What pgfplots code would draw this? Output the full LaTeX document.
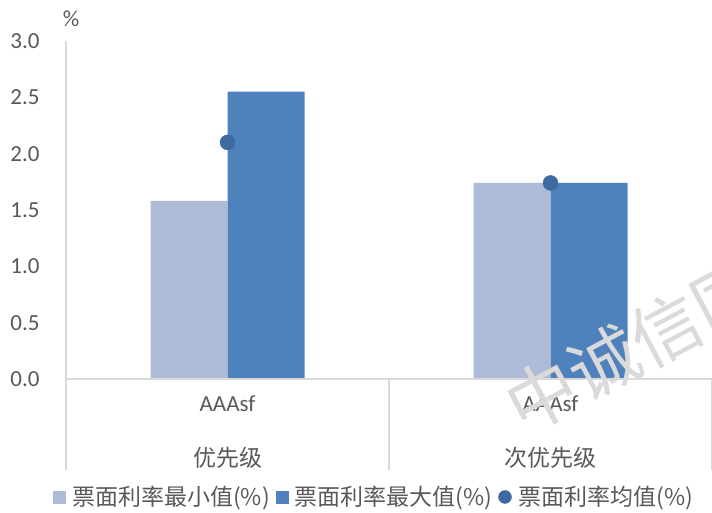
\documentclass[border=0pt]{standalone}
\usepackage{pgfplots}
\pgfplotsset{compat=1.18}
\usepackage{fontspec}
\setmainfont{Carlito}
\newfontfamily\cjk{Noto Sans CJK SC}

\definecolor{minbar}{RGB}{173,187,215}
\definecolor{maxbar}{RGB}{79,129,189}
\definecolor{avgdot}{RGB}{62,106,160}
\definecolor{txt}{RGB}{89,89,89}
\definecolor{grid}{RGB}{217,217,217}
\definecolor{wm}{RGB}{218,218,218}

\begin{document}
\begin{tikzpicture}[x=1bp,y=1bp]
\useasboundingbox (0,0) rectangle (712,513);
\clip (0,0) rectangle (712,513);
\begin{axis}[
    at={(66bp,134bp)}, anchor=south west,
    scale only axis, width=646bp, height=338bp,
    xmin=-0.5, xmax=1.5, ymin=0, ymax=3,
    clip=false,
    axis line style={draw=none},
    major tick length=0pt,
    xtick={0,1}, xticklabels={AAAsf,AAAsf},
    ytick={0,0.5,...,3},
    font=\fontsize{23bp}{27bp}\selectfont,
    ticklabel style={text=txt},
    yticklabel style={xshift=-23bp},
    xticklabel style={anchor=center, yshift=-25bp},
    /pgf/number format/.cd, fixed, fixed zerofill, precision=1, assume math mode=true,
    /pgfplots/.cd,
    legend columns=3,
    legend style={at={(0.477,-0.349)}, anchor=center, draw=none, fill=none,
        font=\cjk\fontsize{23bp}{27bp}\selectfont, text=txt,
        /tikz/every odd column/.append style={column sep=5bp},
        /tikz/every even column/.append style={column sep=4bp}},
    legend cell align=left,
]
\coordinate (tl) at (rel axis cs:0,1);
\coordinate (bl) at (rel axis cs:0,0);
\coordinate (br) at (rel axis cs:1,0);
\coordinate (mid) at (axis cs:0.5,0);

\addplot[ybar, bar width=77bp, bar shift=-38.5bp, fill=minbar, draw=none, forget plot]
    coordinates {(0,1.58) (1,1.74)};
\addplot[ybar, bar width=77bp, bar shift=38.5bp, fill=maxbar, draw=none, forget plot]
    coordinates {(0,2.55) (1,1.74)};
\addplot[only marks, mark=*, mark size=7.5bp, color=avgdot, forget plot]
    coordinates {(0,2.10) (1,1.74)};

\addlegendimage{only marks, mark=square*, mark size=6bp, color=minbar}
\addlegendentry{票面利率最小值(\%)}
\addlegendimage{only marks, mark=square*, mark size=6bp, color=maxbar}
\addlegendentry{票面利率最大值(\%)}
\addlegendimage{only marks, mark=*, mark size=6.5bp, color=avgdot}
\addlegendentry{票面利率均值(\%)}

\node[text=txt, font=\cjk\fontsize{23bp}{27bp}\selectfont, yshift=-79bp] at (axis cs:0,0) {优先级};
\node[text=txt, font=\cjk\fontsize{23bp}{27bp}\selectfont, yshift=-79bp] at (axis cs:1,0) {次优先级};
\end{axis}
% axis and category separator lines
\draw[grid, line width=1.2bp] (tl) -- (bl) -- ([yshift=-91bp]bl);
\draw[grid, line width=1.2bp] (bl) -- (br);
\draw[grid, line width=1.2bp] (mid) -- ([yshift=-91bp]mid);
\draw[grid, line width=1.2bp] (br) -- ([yshift=-91bp]br);
\node[text=txt, font=\fontsize{23bp}{27bp}\selectfont] at (71,494) {\%};
% watermark
\node[rotate=28, anchor=west, inner sep=0pt, text=wm,
      font=\cjk\fontsize{70bp}{74bp}\selectfont] at (511,101) {中诚信国际};
\end{tikzpicture}
\end{document}
